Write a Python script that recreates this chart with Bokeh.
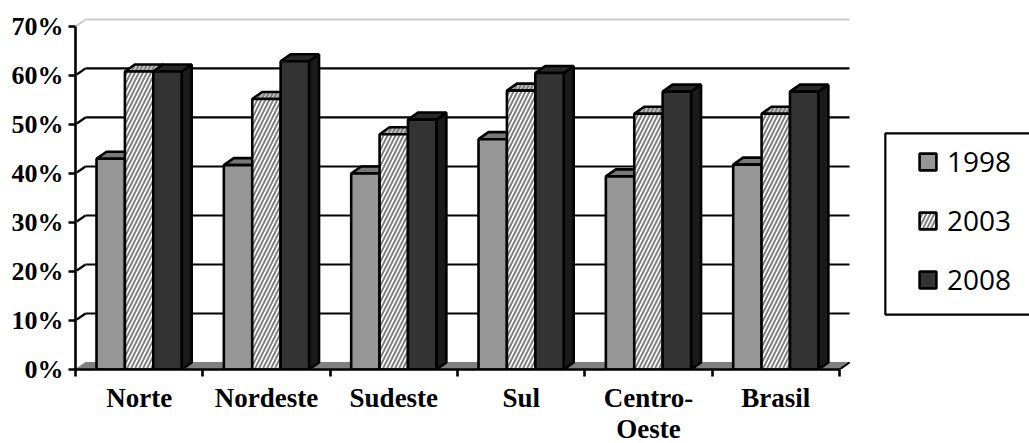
from bokeh.plotting import figure
from bokeh.embed import file_html
from bokeh.resources import INLINE
from bokeh.models import Range1d, LinearAxis, FixedTicker, Legend, LegendItem
import numpy as np

categories = ["Norte", "Nordeste", "Sudeste", "Sul", "Centro-\nOeste", "Brasil"]
years = ["1998", "2003", "2008"]
v1998 = [43.0, 41.7, 40.0, 47.0, 39.4, 41.8]
v2003 = [60.8, 55.2, 48.0, 56.9, 52.2, 52.2]
v2008 = [60.8, 62.9, 51.0, 60.5, 56.7, 56.7]
y_ticks = [0, 10, 20, 30, 40, 50, 60, 70]
y_labels = ["0%", "10%", "20%", "30%", "40%", "50%", "60%", "70%"]

SERIF = "Liberation Serif"
DX, DY = 0.0785, 1.43
START, BW = 0.165, 0.223
LW = 2.6
n = len(categories)

p = figure(frame_width=954, frame_height=369, output_backend="svg", toolbar_location=None,
           x_range=Range1d(0, 7.492), y_range=Range1d(0, 75.3),
           x_axis_type=None, y_axis_type=None,
           min_border_left=75, min_border_right=0, min_border_top=0, min_border_bottom=0,
           outline_line_color=None, background_fill_color="white")
p.margin = (0, 0, 0, 0)
p.xgrid.visible = False
p.ygrid.visible = False

# back wall gridlines and floor
gt = np.array(y_ticks[1:-1], dtype=float)
p.segment(0.0 * gt + DX, gt + DY, 0.0 * gt + n + DX, gt + DY, line_color="black", line_width=2.2)
p.segment(0.0 * gt + 0.01, gt + 0.2, 0.0 * gt + DX, gt + DY, line_color="black", line_width=2.2)
p.line([0, DX, n + DX], [70, 70 + DY, 70 + DY], line_color="#cccccc", line_width=2)
p.patch([0, DX, n + DX, n], [0, DY, DY, 0], fill_color="#808080", line_color="#808080", line_width=1)
p.line([n, n + DX], [0, DY], line_color="black", line_width=2)

hatch = dict(hatch_pattern="right_diagonal_line", hatch_color="#808080", hatch_weight=2.0, hatch_scale=8.0)
styles = [dict(fill_color="#969696"), dict(fill_color="white", **hatch), dict(fill_color="#333333")]
top_styles = [dict(fill_color="#787878"), dict(fill_color="#c4c4c4", **hatch), dict(fill_color="#292929")]
sides = ["#5c5c5c", "#5c5c5c", "#1a1a1a"]
renderers = []
for i, vals in enumerate([v1998, v2003, v2008]):
    vals = np.array(vals)
    left = np.arange(n) + START + i * BW
    right = left + BW
    side_x = [[r, r + DX, r + DX, r] for r in right]
    side_y = [[0, DY, v + DY, v] for v in vals]
    top_x = [[l, l + DX, r + DX, r] for l, r in zip(left, right)]
    top_y = [[v, v + DY, v + DY, v] for v in vals]
    p.patches(side_x, side_y, fill_color=sides[i], line_color="black", line_width=LW)
    p.patches(top_x, top_y, line_color="black", line_width=LW, **top_styles[i])
    r = p.quad(left=left, right=right, bottom=0, top=vals, line_color="black", line_width=LW, **styles[i])
    renderers.append(r)

def style_labels(ax, size):
    ax.major_label_text_font = SERIF
    ax.major_label_text_font_style = "bold"
    ax.major_label_text_font_size = size
    ax.major_label_text_color = "black"

# value axis
ya = LinearAxis(ticker=FixedTicker(ticks=y_ticks), bounds=(0, 70))
ya.major_label_overrides = dict(zip(y_ticks, y_labels))
ya.major_tick_out = 7
ya.major_tick_in = 0
ya.minor_tick_line_color = None
ya.axis_line_width = LW
ya.major_tick_line_width = LW
ya.major_label_standoff = 5
style_labels(ya, "26px")
p.add_layout(ya, "left")

# category axis: labels at centres, minor ticks at category boundaries
centres = [i + 0.5 for i in range(n)]
xa = LinearAxis(ticker=FixedTicker(ticks=centres, minor_ticks=list(range(n + 1))), bounds=(0, n))
xa.major_label_overrides = dict(zip(centres, categories))
xa.major_tick_line_color = None
xa.major_tick_out = 0
xa.major_tick_in = 0
xa.minor_tick_out = 7
xa.minor_tick_in = 0
xa.minor_tick_line_width = LW
xa.minor_tick_line_color = "black"
xa.major_label_standoff = 6
xa.axis_line_width = LW
style_labels(xa, "27px")
xa.major_label_text_line_height = 1.05
p.add_layout(xa, "below")

# legend frame
p.quad(left=[6.36], right=[7.7], bottom=[11.2], top=[48.2], fill_color="white",
       line_color="black", line_width=2.2)
legend = Legend(items=[LegendItem(label=y, renderers=[r]) for y, r in zip(years, renderers)],
                location=(842, 71), orientation="vertical", background_fill_alpha=0,
                border_line_color=None, padding=0, margin=0,
                glyph_width=21, glyph_height=21, label_standoff=9, spacing=21,
                label_text_font="Open Sans", label_text_font_size="28px", label_text_color="black")
p.add_layout(legend, "center")

open("out.html", "w").write(file_html(p, INLINE))
